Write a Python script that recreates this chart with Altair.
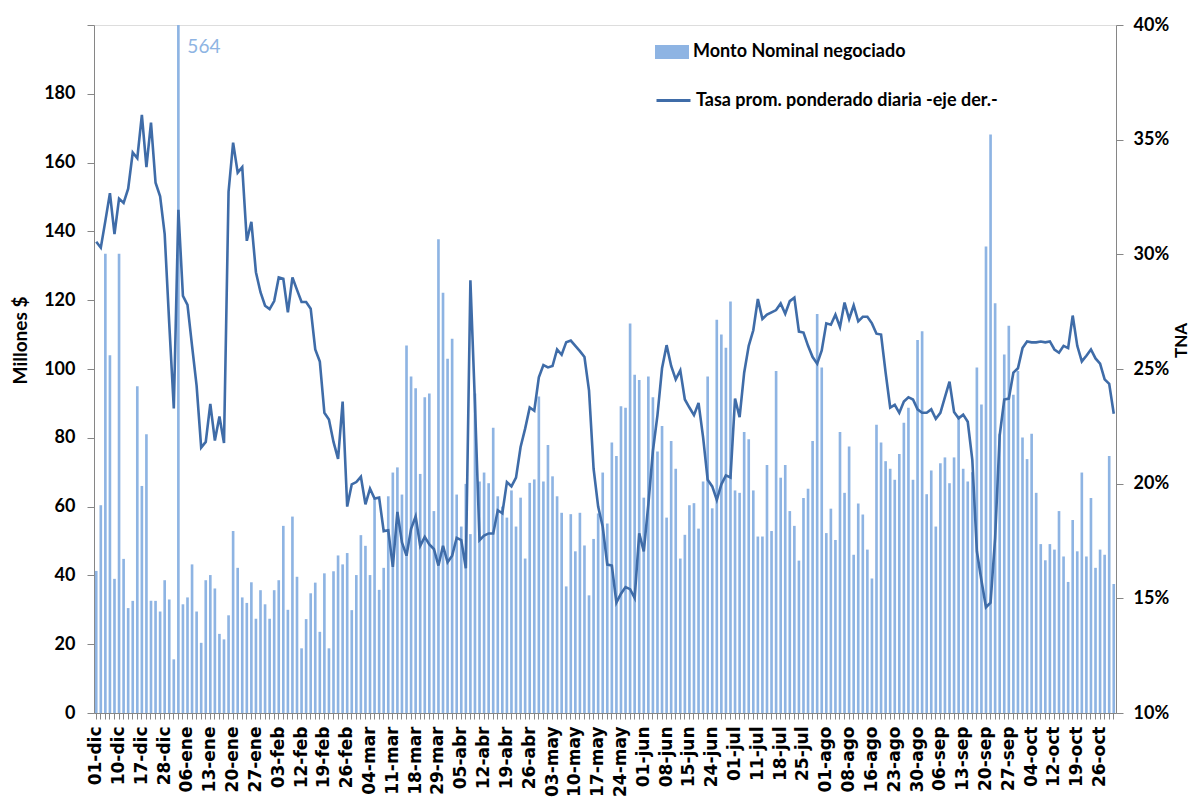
import json
import altair as alt
import pandas as pd

# ---- data ----
etiquetas = ["01-dic", "10-dic", "17-dic", "28-dic", "06-ene", "13-ene", "20-ene", "27-ene",
             "03-feb", "12-feb", "19-feb", "26-feb", "04-mar", "11-mar", "18-mar", "29-mar",
             "05-abr", "12-abr", "19-abr", "26-abr", "03-may", "10-may", "17-may", "24-may",
             "01-jun", "08-jun", "15-jun", "24-jun", "01-jul", "11-jul", "18-jul", "25-jul",
             "01-ago", "08-ago", "16-ago", "23-ago", "30-ago", "06-sep", "13-sep", "20-sep",
             "27-sep", "04-oct", "12-oct", "19-oct", "26-oct"]

monto_dic_feb = [41.3, 60.4, 133.5, 104, 39, 133.5, 44.8, 30.5, 32.6, 95, 66, 81, 32.6, 32.6, 29.5,
                 38.6, 33, 15.6, 564, 31.6, 33.6, 43.2, 29.5, 20.4, 38.6, 40.1, 36.2, 23, 21.4, 28.4,
                 52.9, 42.2, 33.6, 32, 38, 27.4, 35.7, 31.6, 27.4, 35.7, 38.6, 54.4, 30, 57.1, 39.6]
monto_feb_abr = [18.8, 27.3, 34.8, 37.9, 23.6, 40.6, 18.8, 41.2, 45.8, 43.2, 46.5, 29.9, 40.1, 51.7,
                 48.6, 40.1, 62.3, 35.8, 42.2, 63, 69.9, 71.4, 63.5, 106.8, 97.8, 94.4, 69.5, 91.8,
                 92.9, 58.7, 137.7, 122.2, 103, 108.8, 63.5, 54.2, 66.6, 52, 92.9, 67.3, 69.9, 66.8,
                 82.9, 63, 60, 56.8]
monto_abr_jun = [64.7, 54.2, 62.6, 44.9, 66.9, 67.9, 92, 67.3, 77.9, 68.8, 63, 58.2, 36.8, 57.8, 47,
                 58.2, 48.7, 34.2, 50.6, 58, 69.9, 55.1, 78.6, 74.7, 89.2, 88.7, 113.2, 98.3, 96.8,
                 62.6, 97.8, 91.8, 76, 83.4, 56.8, 79.1, 71, 44.9, 51.8, 60.4, 61, 53.6, 67.3, 97.8, 59.5]
monto_jun_ago = [114.3, 110, 106.2, 119.6, 64.7, 64, 81.7, 79.6, 64.7, 51.3, 51.3, 72.1, 52.9, 99.4,
                 68.4, 72.1, 58.7, 54.4, 44.3, 62.5, 65.2, 79.1, 116, 100.4, 52.3, 59.4, 50.3, 81.7,
                 64, 77.5, 46, 60.9, 57.7, 47.5, 39.1, 83.8, 78.6, 73.2, 71, 67.8, 75.3, 84.4, 88.7,
                 67.8, 108.4, 111]
monto_ago_oct = [63.6, 70.5, 54.2, 72.6, 74.3, 66.8, 74.3, 86.4, 71, 67.3, 70, 100.4, 89.7, 135.6,
                 168.2, 119.1, 81.2, 104.2, 112.6, 92.5, 99.4, 80.1, 73.8, 81.2, 64, 49.1, 44.4, 49.1,
                 47.5, 58.7, 45.5, 38.1, 56.1, 47, 69.9, 45.5, 62.5, 42.2, 47.5, 46, 74.7, 37.5]

tasa_dic_feb = [30.55, 30.29, 31.46, 32.67, 30.88, 32.43, 32.24, 32.86, 34.44, 34.19, 36.08, 33.80,
                35.74, 33.12, 32.53, 30.88, 26.98, 23.28, 31.94, 28.19, 27.80, 26.01, 24.26, 21.57,
                21.82, 23.48, 21.88, 22.93, 21.77, 32.73, 34.87, 33.56, 33.80, 30.59, 31.42, 29.22,
                28.35, 27.76, 27.61, 27.96, 28.99, 28.93, 27.47, 28.99, 28.45]
tasa_feb_abr = [27.92, 27.92, 27.63, 25.85, 25.33, 23.09, 22.80, 21.82, 21.08, 23.58, 19.0, 19.97,
                20.07, 20.30, 19.10, 19.78, 19.35, 19.39, 17.93, 17.97, 16.37, 18.77, 17.44, 16.86,
                18.03, 18.57, 17.29, 17.68, 17.35, 17.15, 16.43, 17.29, 16.57, 16.86, 17.64, 17.54,
                16.31, 28.87, 23.48, 17.54, 17.74, 17.83, 17.83, 18.84, 18.71, 20.07]
tasa_abr_jun = [19.88, 20.26, 21.6, 22.4, 23.32, 23.18, 24.64, 25.17, 25.07, 25.13, 25.85, 25.62,
                26.17, 26.24, 26.01, 25.78, 25.52, 24.06, 20.65, 19.0, 18.12, 16.47, 16.43, 14.81,
                15.2, 15.49, 15.4, 15.01, 17.83, 17.05, 19.1, 21.43, 22.99, 25.03, 26.04, 25.13,
                24.55, 24.94, 23.67, 23.32, 22.99, 23.52, 22.02, 20.17, 19.88]
tasa_jun_ago = [19.29, 19.97, 20.36, 20.27, 23.71, 22.90, 24.84, 26.01, 26.69, 28.05, 27.18, 27.37,
                27.47, 27.57, 27.86, 27.41, 27.96, 28.11, 26.63, 26.59, 26.01, 25.52, 25.23, 25.81,
                26.99, 26.93, 27.37, 26.83, 27.90, 27.18, 27.77, 27.08, 27.28, 27.28, 26.99, 26.54,
                26.50, 24.84, 23.32, 23.44, 23.09, 23.58, 23.77, 23.67, 23.24, 23.09]
tasa_ago_oct = [23.09, 23.24, 22.83, 23.09, 23.77, 24.45, 23.13, 22.85, 23.01, 22.70, 21.04, 17.05,
                15.78, 14.61, 14.81, 17.64, 22.11, 23.67, 23.71, 24.84, 25.03, 25.91, 26.20, 26.16,
                26.16, 26.20, 26.16, 26.20, 25.85, 25.71, 26.01, 25.91, 27.33, 26.01, 25.33, 25.58,
                25.85, 25.46, 25.23, 24.55, 24.35, 23.05]

serie_barras = "Monto Nominal negociado"
serie_linea = "Tasa prom. ponderado diaria -eje der.-"

montos = monto_dic_feb + monto_feb_abr + monto_abr_jun + monto_jun_ago + monto_ago_oct
tasas = tasa_dic_feb + tasa_feb_abr + tasa_abr_jun + tasa_jun_ago + tasa_ago_oct

df = pd.DataFrame({
    "i": list(range(len(montos))),
    "monto": montos,
    "tasa": [t / 100 for t in tasas],
})

# ---- styling ----
GRAY = "#868686"
BAR = "#8EB4E3"
LINE = "#3F6CA8"
FONT = "Lato"

label_expr = "datum.value % 5 === 0 ? " + json.dumps(etiquetas) + "[datum.value / 5] : ''"

x_enc = alt.X(
    "i:O",
    scale=alt.Scale(paddingInner=0.42, paddingOuter=0.2),
    axis=alt.Axis(
        title=None, labelExpr=label_expr, labelAngle=-90, labelOverlap=False,
        labelFont="DejaVu Sans", labelFontWeight="bold", labelFontSize=17, labelColor="#000",
        labelPadding=7, tickSize=6, tickColor=GRAY, domainColor=GRAY, tickWidth=1,
        labelBound=False,
    ),
)

y_left = alt.Y(
    "ytop:Q",
    scale=alt.Scale(domain=[0, 200], nice=False),
    axis=alt.Axis(
        title="Millones $", values=list(range(0, 201, 20)),
        labelExpr="datum.value == 200 ? '' : datum.label",
        labelFont=FONT, labelFontWeight="bold", labelFontSize=18, labelColor="#000",
        labelPadding=12, tickSize=7, tickColor=GRAY, domainColor=GRAY, grid=False,
        titleFont=FONT, titleFontWeight="bold", titleFontSize=19, titleColor="#000",
        titlePadding=13, titleY=315,
    ),
)

base = alt.Chart(df).transform_calculate(
    ytop="min(datum.monto, 200)",
    serie="'" + serie_barras + "'",
    serie2="'" + serie_linea + "'",
)

bars = base.mark_bar(color=BAR).encode(
    x=x_enc,
    y=y_left,
    color=alt.Color(
        "serie:N", scale=alt.Scale(range=[BAR]),
        legend=alt.Legend(
            title=None, orient="none", legendX=561, legendY=10,
            symbolType="M-1,-0.41H1V0.41H-1Z", symbolSize=1156, symbolStrokeWidth=0,
            labelFont=FONT, labelFontWeight="bold", labelFontSize=18, labelColor="#000",
            labelOffset=4, labelLimit=500,
        ),
    ),
)

etiqueta_564 = base.transform_filter("datum.monto > 200").transform_calculate(
    txt="format(datum.monto, 'd')"
).mark_text(
    align="left", baseline="middle", dx=9, dy=22, font=FONT, fontSize=19, color=BAR
).encode(
    x=alt.X("i:O"),
    y=y_left,
    text="txt:N",
)

line = base.mark_line(strokeWidth=2.6).encode(
    x=alt.X("i:O"),
    y=alt.Y(
        "tasa:Q",
        scale=alt.Scale(domain=[0.10, 0.40], nice=False),
        axis=alt.Axis(
            title="TNA", orient="right", format=".0%",
            values=[0.10, 0.15, 0.20, 0.25, 0.30, 0.35, 0.40],
            labelFont=FONT, labelFontWeight="bold", labelFontSize=18, labelColor="#000",
            labelPadding=10, tickSize=7, tickColor=GRAY, domainColor=GRAY, grid=False,
            titleFont=FONT, titleFontWeight="bold", titleFontSize=17, titleColor="#000",
            titleAngle=-90, titleBaseline="top", titlePadding=5, titleY=315,
        ),
    ),
    stroke=alt.Stroke(
        "serie2:N", scale=alt.Scale(range=[LINE]),
        legend=alt.Legend(
            title=None, orient="none", legendX=561, legendY=57,
            symbolType="M-1,0H1", symbolSize=1156, symbolStrokeWidth=3,
            labelFont=FONT, labelFontWeight="bold", labelFontSize=18, labelColor="#000",
            labelOffset=4, labelLimit=500,
        ),
    ),
)

left = alt.layer(bars, etiqueta_564)
chart = alt.layer(left, line).resolve_scale(
    y="independent", color="independent", stroke="independent"
).properties(
    width=1022, height=688,
    padding={"left": 3, "top": 8, "right": 0, "bottom": 0},
).configure_view(stroke=None).configure(background="white")

chart.save("out.html", embed_options={"renderer": "svg", "actions": False})
